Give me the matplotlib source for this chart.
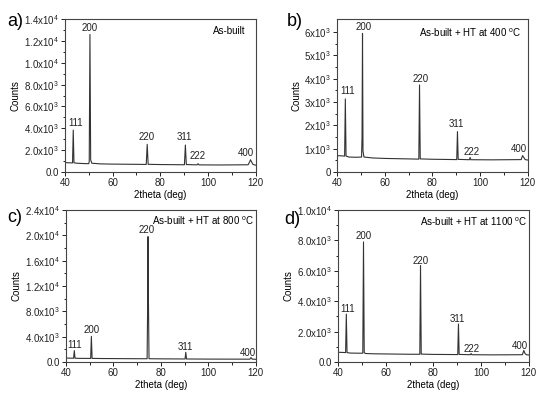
import matplotlib
matplotlib.use("Agg")
import matplotlib.pyplot as plt

plt.rcParams['font.family'] = ['Liberation Sans', 'DejaVu Sans']
plt.rcParams['mathtext.default'] = 'regular'
plt.rcParams['font.size'] = 7

# 2theta / counts vertices
tt_a = [40, 42, 43.2, 43.5, 43.8, 45, 48, 50.0, 50.2, 50.5, 50.8, 51.3, 55, 60, 70, 74.1, 74.5, 74.9, 80,
        90.1, 90.5, 90.9, 95.4, 95.8, 96.2, 105, 116.8, 117.5, 117.8, 118.2, 118.8, 119.5, 120]
cnt_a = [860, 840, 830, 3840, 840, 800, 770, 760, 950, 12600, 1100, 800, 740, 720, 700, 690, 2530, 700, 680,
         660, 2470, 680, 650, 760, 650, 640, 660, 950, 1120, 950, 700, 650, 620]

tt_b = [40, 42, 43.2, 43.5, 43.8, 45, 48, 50.3, 50.5, 50.7, 50.9, 51.3, 55, 60, 70, 74.3, 74.6, 74.9, 80,
        90.2, 90.5, 90.8, 95.5, 95.8, 96.1, 105, 117.2, 117.8, 118.2, 118.9, 120]
cnt_b = [700, 690, 680, 3130, 680, 640, 630, 640, 1500, 5940, 900, 640, 600, 580, 560, 550, 3730, 560, 545,
         530, 1730, 540, 525, 620, 525, 520, 530, 700, 640, 530, 510]

tt_c = [40, 42, 43.2, 43.5, 43.8, 45, 48, 50.4, 50.7, 51.0, 55, 60, 70, 74.2, 74.45, 74.6, 74.75, 75.0, 80,
        90.2, 90.5, 90.8, 100, 117.5, 118, 118.5, 120]
cnt_c = [620, 610, 600, 1800, 600, 580, 570, 570, 4050, 570, 550, 540, 520, 520, 10000, 19800, 10000, 520, 500,
         480, 1530, 480, 460, 450, 700, 450, 430]

tt_d = [40, 42, 43.2, 43.5, 43.8, 45, 48, 50.4, 50.7, 51.0, 51.5, 55, 60, 70, 74.3, 74.6, 74.9, 80,
        90.2, 90.5, 90.8, 95.5, 95.8, 96.1, 105, 117.3, 117.9, 118.4, 119, 120]
cnt_d = [640, 630, 620, 3150, 620, 590, 580, 580, 7900, 620, 560, 540, 530, 510, 510, 6350, 520, 500,
         490, 2500, 500, 480, 560, 480, 470, 480, 760, 560, 480, 460]

peaks_a = ["111", "200", "220", "311", "222", "400"]
lab_x_a = [44.4, 50.5, 74.4, 89.9, 95.6, 115.9]
lab_y_a = [4450, 13200, 3170, 3230, 1460, 1710]

peaks_b = ["111", "200", "220", "311", "222", "400"]
lab_x_b = [44.4, 51.0, 74.9, 90.1, 96.5, 116.4]
lab_y_b = [3480, 6200, 4000, 2040, 870, 990]

peaks_c = ["111", "200", "220", "311", "400"]
lab_x_c = [43.7, 50.7, 74.2, 90.4, 116.8]
lab_y_c = [2730, 5100, 20900, 2420, 1370]

peaks_d = ["111", "200", "220", "311", "222", "400"]
lab_x_d = [44.0, 50.8, 74.5, 90.2, 96.2, 116.4]
lab_y_d = [3490, 8300, 6660, 2830, 860, 1070]

yt_a = [0, 2000, 4000, 6000, 8000, 10000, 12000, 14000]
yl_a = ["0.0", "2.0x10$^3$", "4.0x10$^3$", "6.0x10$^3$", "8.0x10$^3$", "1.0x10$^4$", "1.2x10$^4$", "1.4x10$^4$"]
yt_b = [0, 1000, 2000, 3000, 4000, 5000, 6000]
yl_b = ["0", "1x10$^3$", "2x10$^3$", "3x10$^3$", "4x10$^3$", "5x10$^3$", "6x10$^3$"]
yt_c = [0, 4000, 8000, 12000, 16000, 20000, 24000]
yl_c = ["0.0", "4.0x10$^3$", "8.0x10$^3$", "1.2x10$^4$", "1.6x10$^4$", "2.0x10$^4$", "2.4x10$^4$"]
yt_d = [0, 2000, 4000, 6000, 8000, 10000]
yl_d = ["0.0", "2.0x10$^3$", "4.0x10$^3$", "6.0x10$^3$", "8.0x10$^3$", "1.0x10$^4$"]

panels = [
    ("a)", "As-built", tt_a, cnt_a, peaks_a, lab_x_a, lab_y_a, yt_a, yl_a, 14000, 1000,
     [0.118, 0.569, 0.347, 0.383], (0.948, 0.92), (0.014, 0.946)),
    ("b)", "As-built + HT at 400 $^o$C", tt_b, cnt_b, peaks_b, lab_x_b, lab_y_b, yt_b, yl_b, 6550, 500,
     [0.6127, 0.569, 0.347, 0.383], (0.963, 0.913), (0.522, 0.946)),
    ("c)", "As-built + HT at 800 $^o$C", tt_c, cnt_c, peaks_c, lab_x_c, lab_y_c, yt_c, yl_c, 24000, 2000,
     [0.12, 0.0927, 0.345, 0.381], (0.99, 0.93), (0.014, 0.455)),
    ("d)", "As-built + HT at 1100 $^o$C", tt_d, cnt_d, peaks_d, lab_x_d, lab_y_d, yt_d, yl_d, 10000, 1000,
     [0.6145, 0.0927, 0.347, 0.381], (0.995, 0.92), (0.516, 0.451)),
]

fig = plt.figure(figsize=(5.5, 3.99), dpi=100)
for tag, title, tt, cnt, names, lx, ly, yt, yl, ytop, yminor, rect, tpos, tagpos in panels:
    ax = fig.add_axes(rect)
    ax.plot(tt, cnt, color='#333333', lw=0.8)
    for n, x, y in zip(names, lx, ly):
        ax.text(x, y, n, ha='center', va='center', fontsize=7, color='#222222')
    ax.text(tpos[0], tpos[1], title, transform=ax.transAxes, ha='right', va='center', fontsize=7)
    fig.text(tagpos[0], tagpos[1], tag, ha='left', va='center', fontsize=13)
    ax.set_xlim(40, 120)
    ax.set_ylim(0, ytop)
    ax.set_xticks([40, 60, 80, 100, 120])
    ax.set_xticks([50, 70, 90, 110], minor=True)
    ax.set_yticks(yt)
    ax.set_yticklabels(yl)
    ax.set_yticks([v + yminor for v in yt[:-1]], minor=True)
    ax.tick_params(which='major', direction='out', length=3, width=0.7, pad=1.5, labelsize=7, colors='#222222')
    ax.tick_params(which='minor', direction='out', length=1.8, width=0.6)
    for s in ax.spines.values():
        s.set_linewidth(0.8)
        s.set_color('#444444')
    ax.set_xlabel("2theta (deg)", fontsize=7, labelpad=1.5)
    ax.set_ylabel("Counts", fontsize=7, labelpad=2)

fig.savefig("out.png", dpi=100)
